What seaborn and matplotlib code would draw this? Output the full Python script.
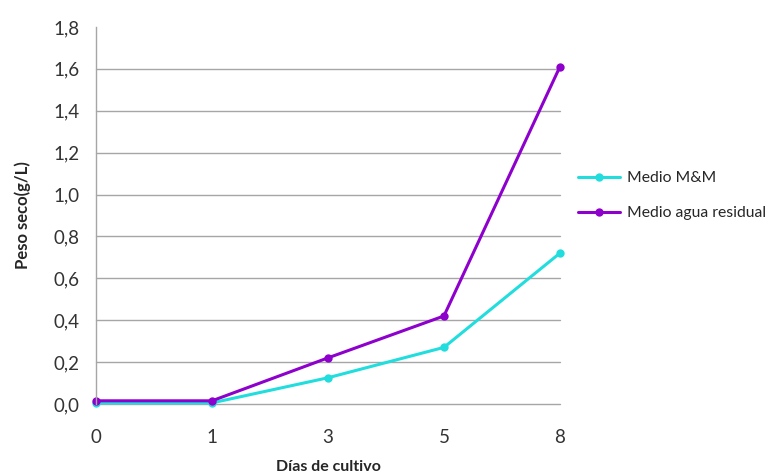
import matplotlib
matplotlib.use("Agg")
import matplotlib.pyplot as plt
import seaborn as sns
import pandas as pd

dias = ["0", "1", "3", "5", "8"]
medio_mm = [0.005, 0.005, 0.125, 0.27, 0.72]
medio_agua = [0.015, 0.015, 0.22, 0.42, 1.61]

sns.set_style("white")
plt.rcParams['font.family'] = ['Lato', 'DejaVu Sans']

df = pd.DataFrame({
    "pos": list(range(len(dias))) * 2,
    "valor": medio_mm + medio_agua,
    "serie": ["Medio M&M"] * len(dias) + ["Medio agua residual"] * len(dias),
})

fig = plt.figure(figsize=(7.77, 4.73), dpi=100)
ax = fig.add_axes([0.1236, 0.146, 0.597, 0.797])

sns.lineplot(data=df, x="pos", y="valor", hue="serie",
             palette={"Medio M&M": "#22DDDD", "Medio agua residual": "#8E00CC"},
             marker="o", markersize=6, markeredgewidth=0, linewidth=2.2, ax=ax)

ax.set_xlim(0, len(dias) - 1)
ax.set_ylim(0, 1.8)
ax.set_xticks(range(len(dias)))
ax.set_xticklabels(dias)
yt = [i * 0.2 for i in range(10)]
ax.set_yticks(yt)
ax.set_yticklabels([f"{v:.1f}".replace(".", ",") for v in yt])
ax.tick_params(axis="both", labelsize=13.5, colors="#333333", length=0)
ax.tick_params(axis="x", pad=18)
ax.tick_params(axis="y", pad=12)
for t in ax.get_yticks()[:-1]:
    ax.axhline(t, color="#A6A6A6", linewidth=1, zorder=0)
for s in ["top", "right", "bottom"]:
    ax.spines[s].set_visible(False)
ax.spines["left"].set_color("#A6A6A6")
ax.spines["left"].set_linewidth(1)
for l in ax.get_lines():
    l.set_clip_on(False)

ax.set_xlabel("Días de cultivo", fontsize=11.5, fontweight="bold", labelpad=10)
ax.set_ylabel("Peso seco(g/L)", fontsize=12, fontweight="bold", labelpad=16)

ax.legend(loc="upper left", bbox_to_anchor=(0.744, 0.638), bbox_transform=fig.transFigure,
          frameon=False, fontsize=11.3, handlelength=2.7, labelspacing=1.35,
          handletextpad=0.4, borderpad=0, borderaxespad=0, title=None)

fig.savefig("out.png", dpi=100)
